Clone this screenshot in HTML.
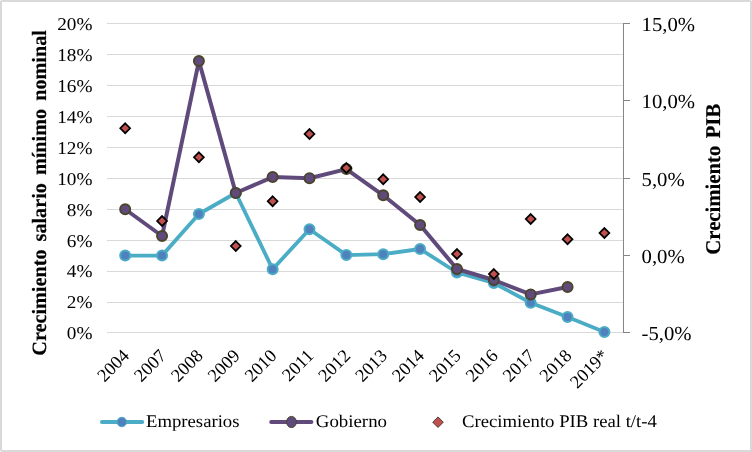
<!DOCTYPE html>
<html lang="es"><head><meta charset="utf-8"><title>Crecimiento salario mínimo nominal</title>
<style>html,body{margin:0;padding:0;background:#fff}body{width:752px;height:452px;overflow:hidden}svg{display:block}text{font-family:"Liberation Serif","Times New Roman",serif;fill:#000;text-rendering:geometricPrecision}</style></head><body>
<svg width="752" height="452" viewBox="0 0 752 452">
<rect x="0" y="0" width="752" height="452" fill="#fff"/>
<rect x="1" y="1" width="750" height="450" rx="1" ry="1" fill="none" stroke="#d9d9d9" stroke-width="2"/>
<rect x="750" y="450" width="2" height="2" fill="#d9d9d9"/>
<rect x="751" y="451" width="1" height="1" fill="#d0d0d0"/>
<g stroke="#d9d9d9" stroke-width="1" shape-rendering="auto">
<rect x="107" y="23" width="516" height="1" fill="#d9d9d9" stroke="none"/>
<rect x="107" y="54" width="516" height="1" fill="#d9d9d9" stroke="none"/>
<rect x="107" y="85" width="516" height="1" fill="#d9d9d9" stroke="none"/>
<rect x="107" y="116" width="516" height="1" fill="#d9d9d9" stroke="none"/>
<rect x="107" y="147" width="516" height="1" fill="#d9d9d9" stroke="none"/>
<rect x="107" y="178" width="516" height="1" fill="#d9d9d9" stroke="none"/>
<rect x="107" y="209" width="516" height="1" fill="#d9d9d9" stroke="none"/>
<rect x="107" y="240" width="516" height="1" fill="#d9d9d9" stroke="none"/>
<rect x="107" y="271" width="516" height="1" fill="#d9d9d9" stroke="none"/>
<rect x="107" y="302" width="516" height="1" fill="#d9d9d9" stroke="none"/>
<rect x="107" y="332" width="516" height="1" fill="#d9d9d9" stroke="none"/>
</g>
<g stroke="#868686" stroke-width="1">
<rect x="623" y="23" width="1" height="310" fill="#868686" stroke="none"/>
<rect x="623" y="23" width="7" height="1" fill="#868686" stroke="none"/>
<rect x="623" y="100" width="7" height="1" fill="#868686" stroke="none"/>
<rect x="623" y="178" width="7" height="1" fill="#868686" stroke="none"/>
<rect x="623" y="255" width="7" height="1" fill="#868686" stroke="none"/>
<rect x="623" y="332" width="7" height="1" fill="#868686" stroke="none"/>
</g>
<g font-size="18.0" text-anchor="end">
<text transform="translate(92.4,30.25) scale(1.068,1)">20%</text>
<text transform="translate(92.4,61.15) scale(1.068,1)">18%</text>
<text transform="translate(92.4,92.05) scale(1.068,1)">16%</text>
<text transform="translate(92.4,122.95) scale(1.068,1)">14%</text>
<text transform="translate(92.4,153.85) scale(1.068,1)">12%</text>
<text transform="translate(92.4,184.75) scale(1.068,1)">10%</text>
<text transform="translate(92.4,215.65) scale(1.068,1)">8%</text>
<text transform="translate(92.4,246.55) scale(1.068,1)">6%</text>
<text transform="translate(92.4,277.45) scale(1.068,1)">4%</text>
<text transform="translate(92.4,308.35) scale(1.068,1)">2%</text>
<text transform="translate(92.4,339.25) scale(1.068,1)">0%</text>
</g>
<g font-size="20" text-anchor="start">
<text transform="translate(641.6,30.95) scale(1.035,1)">15,0%</text>
<text transform="translate(641.6,107.95) scale(1.035,1)">10,0%</text>
<text transform="translate(641.6,185.95) scale(1.035,1)">5,0%</text>
<text transform="translate(641.6,262.95) scale(1.035,1)">0,0%</text>
<text transform="translate(641.6,339.95) scale(1.035,1)">-5,0%</text>
</g>
<g font-size="18.3" text-anchor="end">
<text transform="translate(130.28,356.90) rotate(-45)">2004</text>
<text transform="translate(167.15,356.90) rotate(-45)">2007</text>
<text transform="translate(204.01,356.90) rotate(-45)">2008</text>
<text transform="translate(240.88,356.90) rotate(-45)">2009</text>
<text transform="translate(277.74,356.90) rotate(-45)">2010</text>
<text transform="translate(314.60,356.90) rotate(-45)">2011</text>
<text transform="translate(351.47,356.90) rotate(-45)">2012</text>
<text transform="translate(388.33,356.90) rotate(-45)">2013</text>
<text transform="translate(425.20,356.90) rotate(-45)">2014</text>
<text transform="translate(462.06,356.90) rotate(-45)">2015</text>
<text transform="translate(498.93,356.90) rotate(-45)">2016</text>
<text transform="translate(535.79,356.90) rotate(-45)">2017</text>
<text transform="translate(572.65,356.90) rotate(-45)">2018</text>
<text transform="translate(609.52,356.90) rotate(-45)">2019*</text>
</g>
<text font-size="20.3" font-weight="bold" text-anchor="middle" word-spacing="3.0" stroke="#000" stroke-width="0.2" transform="translate(45.8,192.9) rotate(-90) scale(0.996,1)">Crecimiento salario mínimo nominal</text>
<text font-size="21" font-weight="bold" text-anchor="middle" word-spacing="2.2" stroke="#000" stroke-width="0.2" transform="translate(720.3,179.2) rotate(-90) scale(0.987,1)">Crecimiento PIB</text>
<path d="M125.18,255.60 L162.05,255.60 L198.91,214.00 L235.78,193.00 L272.64,269.20 L309.50,229.25 L346.37,255.10 L383.23,254.20 L420.10,249.00 L456.96,272.50 L493.82,283.00 L530.69,302.70 L567.55,317.00 L604.42,332.00" fill="none" stroke="#4bacc6" stroke-width="3.8" stroke-linejoin="round" stroke-linecap="round"/>
<g fill="#4f81bd" stroke="#4bacc6" stroke-width="2">
<circle cx="125.18" cy="255.60" r="5.0"/>
<circle cx="162.05" cy="255.60" r="5.0"/>
<circle cx="198.91" cy="214.00" r="5.0"/>
<circle cx="235.78" cy="193.00" r="5.0"/>
<circle cx="272.64" cy="269.20" r="5.0"/>
<circle cx="309.50" cy="229.25" r="5.0"/>
<circle cx="346.37" cy="255.10" r="5.0"/>
<circle cx="383.23" cy="254.20" r="5.0"/>
<circle cx="420.10" cy="249.00" r="5.0"/>
<circle cx="456.96" cy="272.50" r="5.0"/>
<circle cx="493.82" cy="283.00" r="5.0"/>
<circle cx="530.69" cy="302.70" r="5.0"/>
<circle cx="567.55" cy="317.00" r="5.0"/>
<circle cx="604.42" cy="332.00" r="5.0"/>
</g>
<path d="M125.18,209.25 L162.05,236.00 L198.91,61.10 L235.78,193.00 L272.64,177.10 L309.50,178.20 L346.37,169.10 L383.23,195.30 L420.10,225.00 L456.96,269.00 L493.82,280.00 L530.69,294.40 L567.55,287.00" fill="none" stroke="#604a7b" stroke-width="4" stroke-linejoin="round" stroke-linecap="round"/>
<g fill="#604a7b" stroke="#4a452a" stroke-width="1.9">
<circle cx="125.18" cy="209.25" r="5.05"/>
<circle cx="162.05" cy="236.00" r="5.05"/>
<circle cx="198.91" cy="61.10" r="5.05"/>
<circle cx="235.78" cy="193.00" r="5.05"/>
<circle cx="272.64" cy="177.10" r="5.05"/>
<circle cx="309.50" cy="178.20" r="5.05"/>
<circle cx="346.37" cy="169.10" r="5.05"/>
<circle cx="383.23" cy="195.30" r="5.05"/>
<circle cx="420.10" cy="225.00" r="5.05"/>
<circle cx="456.96" cy="269.00" r="5.05"/>
<circle cx="493.82" cy="280.00" r="5.05"/>
<circle cx="530.69" cy="294.40" r="5.05"/>
<circle cx="567.55" cy="287.00" r="5.05"/>
</g>
<g fill="#c0504d" stroke="#000" stroke-width="1.75" stroke-linejoin="miter">
<path d="M125.18,123.35 L130.08,128.25 L125.18,133.15 L120.28,128.25 Z"/>
<path d="M162.05,216.10 L166.95,221.00 L162.05,225.90 L157.15,221.00 Z"/>
<path d="M198.91,152.35 L203.81,157.25 L198.91,162.15 L194.01,157.25 Z"/>
<path d="M235.78,241.10 L240.68,246.00 L235.78,250.90 L230.88,246.00 Z"/>
<path d="M272.64,196.35 L277.54,201.25 L272.64,206.15 L267.74,201.25 Z"/>
<path d="M309.50,129.10 L314.40,134.00 L309.50,138.90 L304.60,134.00 Z"/>
<path d="M346.37,163.10 L351.27,168.00 L346.37,172.90 L341.47,168.00 Z"/>
<path d="M383.23,174.35 L388.13,179.25 L383.23,184.15 L378.33,179.25 Z"/>
<path d="M420.10,192.10 L425.00,197.00 L420.10,201.90 L415.20,197.00 Z"/>
<path d="M456.96,249.10 L461.86,254.00 L456.96,258.90 L452.06,254.00 Z"/>
<path d="M493.82,269.10 L498.72,274.00 L493.82,278.90 L488.93,274.00 Z"/>
<path d="M530.69,214.10 L535.59,219.00 L530.69,223.90 L525.79,219.00 Z"/>
<path d="M567.55,234.35 L572.45,239.25 L567.55,244.15 L562.65,239.25 Z"/>
<path d="M604.42,228.10 L609.32,233.00 L604.42,237.90 L599.52,233.00 Z"/>
</g>
<line x1="102" y1="422" x2="142.2" y2="422" stroke="#4bacc6" stroke-width="4" stroke-linecap="round"/>
<circle cx="121.85" cy="422" r="4.75" fill="#4f81bd" stroke="#4bacc6" stroke-width="1"/>
<text transform="translate(146,427.1) scale(1.052,1)" font-size="17.8">Empresarios</text>
<line x1="271.2" y1="422" x2="311.4" y2="422" stroke="#604a7b" stroke-width="4" stroke-linecap="round"/>
<ellipse cx="291.45" cy="422" rx="4.9" ry="5.6" fill="#604a7b" stroke="#4a452a" stroke-width="1"/>
<text transform="translate(315.8,427.1) scale(1.06,1)" font-size="17.8">Gobierno</text>
<path d="M438.00,416.90 L443.30,422.20 L438.00,427.50 L432.70,422.20 Z" fill="#c0504d" stroke="#222" stroke-width="0.8"/>
<text transform="translate(462,427.1) scale(1.052,1)" font-size="17.8">Crecimiento PIB real t/t-4</text>
</svg></body></html>
